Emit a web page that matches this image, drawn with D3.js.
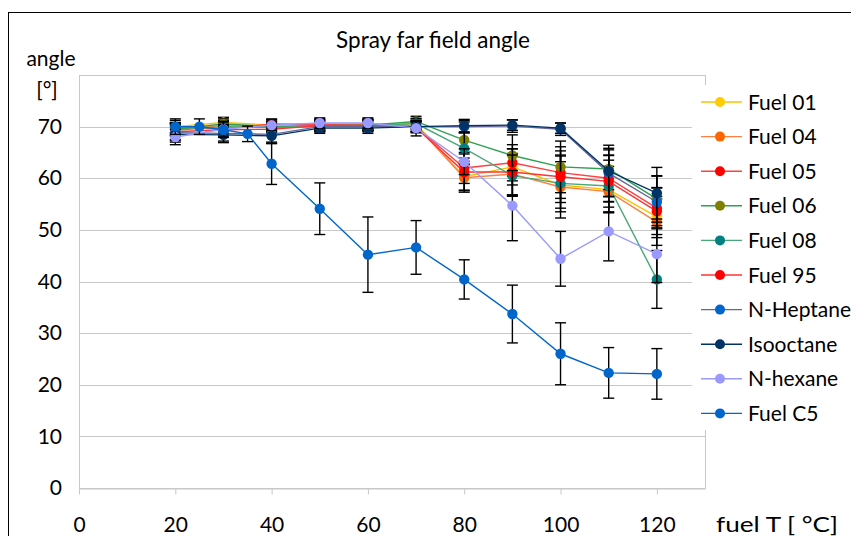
<!DOCTYPE html>
<html>
<head>
<meta charset="utf-8">
<script src="https://cdn.jsdelivr.net/npm/d3@7"></script>
<style>
  body { margin: 0; background: #fff; }
  text { font-family: Lato, "Open Sans", sans-serif; fill: #000; }
</style>
</head>
<body>
<div id="chart"></div>
<script>
// temperatures (°C)
const temps = [20, 30, 40, 50, 60, 70, 80, 90, 100, 110, 120];
const tempsC5 = [20, 25, 30, 35, 40, 50, 60, 70, 80, 90, 100, 110, 120];

const seriesNames = ["Fuel 01", "Fuel 04", "Fuel 05", "Fuel 06", "Fuel 08",
  "Fuel 95", "N-Heptane", "Isooctane", "N-hexane", "Fuel C5"];

const fuel01 = [70.0, 70.8, 70.3, 70.5, 70.5, 70.5, 60.3, 62.2, 58.7, 57.8, 52.5];
const fuel04 = [69.5, 70.2, 70.0, 70.3, 70.4, 70.2, 60.1, 60.8, 58.3, 57.4, 51.5];
const fuel05 = [69.8, 69.6, 70.5, 70.4, 70.3, 70.0, 62.0, 63.0, 61.1, 60.0, 54.2];
const fuel06 = [69.5, 70.5, 70.0, 70.2, 70.3, 71.0, 67.4, 64.4, 62.2, 61.8, 56.0];
const fuel08 = [69.3, 70.0, 69.8, 70.0, 70.2, 70.6, 65.8, 60.5, 59.0, 58.5, 40.4];
const fuel95 = [69.0, 69.4, 69.5, 70.2, 70.2, 69.8, 61.2, 61.2, 60.3, 59.4, 53.6];
const heptane = [68.8, 68.7, 68.5, 70.0, 70.0, 70.0, 70.0, 70.1, 69.5, 61.0, 55.4];
const isooctane = [68.5, 68.4, 68.2, 69.7, 69.7, 70.0, 70.2, 70.3, 69.7, 61.4, 57.1];
const hexane = [68.0, 69.5, 70.3, 70.7, 70.7, 69.7, 63.2, 54.7, 44.4, 49.7, 45.3];
const fuelC5 = [70.0, 70.0, 69.4, 68.6, 62.8, 54.1, 45.2, 46.6, 40.4, 33.7, 26.0, 22.3, 22.1];

// error bar half widths
const err01 = [1.2, 1.0, 1.0, 1.0, 1.0, 1.0, 3.0, 3.5, 4.5, 4.5, 4.0];
const err04 = [1.2, 1.0, 1.0, 1.0, 1.0, 1.0, 2.5, 4.0, 6.0, 4.0, 4.5];
const err05 = [1.0, 1.0, 1.0, 1.0, 1.0, 1.0, 3.0, 3.5, 5.0, 4.5, 4.0];
const err06 = [1.2, 1.0, 1.0, 1.0, 1.0, 1.0, 3.5, 4.0, 5.0, 4.0, 4.5];
const err08 = [1.2, 1.0, 1.0, 1.0, 1.0, 1.0, 3.0, 4.0, 5.5, 5.0, 5.6];
const err95 = [1.5, 1.0, 1.0, 1.0, 1.0, 1.0, 3.5, 4.5, 5.0, 5.0, 4.5];
const errHep = [1.5, 1.5, 1.5, 1.0, 1.0, 1.0, 1.2, 1.2, 1.2, 4.5, 5.0];
const errIso = [1.5, 1.5, 1.5, 1.0, 1.0, 1.0, 1.2, 1.0, 1.0, 5.0, 5.0];
const errHex = [1.5, 1.5, 1.0, 1.0, 1.0, 1.5, 2.5, 6.8, 5.3, 5.7, 5.5];
const errC5 = [1.5, 1.5, 1.5, 1.5, 4.0, 5.0, 7.3, 5.2, 3.8, 5.6, 6.0, 4.9, 4.9];

const xTicks = [0, 20, 40, 60, 80, 100, 120];
const yTicks = [0, 10, 20, 30, 40, 50, 60, 70];

const series = [
  { name: seriesNames[0], x: temps, y: fuel01, e: err01, line: "#ffc000", dot: "#ffcc00" },
  { name: seriesNames[1], x: temps, y: fuel04, e: err04, line: "#ff7f3f", dot: "#ff6600" },
  { name: seriesNames[2], x: temps, y: fuel05, e: err05, line: "#ff4040", dot: "#ff0000" },
  { name: seriesNames[3], x: temps, y: fuel06, e: err06, line: "#2ea052", dot: "#808000" },
  { name: seriesNames[4], x: temps, y: fuel08, e: err08, line: "#4aa878", dot: "#008080" },
  { name: seriesNames[5], x: temps, y: fuel95, e: err95, line: "#ff3333", dot: "#ff0000" },
  { name: seriesNames[6], x: temps, y: heptane, e: errHep, line: "#666699", dot: "#0066cc" },
  { name: seriesNames[7], x: temps, y: isooctane, e: errIso, line: "#003366", dot: "#003366" },
  { name: seriesNames[8], x: temps, y: hexane, e: errHex, line: "#9999ff", dot: "#9999ff" },
  { name: seriesNames[9], x: tempsC5, y: fuelC5, e: errC5, line: "#0066cc", dot: "#0066cc" }
];

const W = 851, H = 536;
const svg = d3.select("#chart").append("svg").attr("width", W).attr("height", H);

// outer chart border
svg.append("rect").attr("x", 8.5).attr("y", 12.5).attr("width", 900).attr("height", 600)
  .attr("fill", "#fff").attr("stroke", "#000").attr("stroke-width", 1);

const x = d3.scaleLinear().domain([0, 130]).range([79, 705]);
const y = d3.scaleLinear().domain([0, 80]).range([488, 75]);

// plot area border
svg.append("rect").attr("x", 79.5).attr("y", 75.5)
  .attr("width", x(130) - x(0)).attr("height", y(0) - y(80))
  .attr("fill", "none").attr("stroke", "#c8c8c8");

// gridlines
svg.append("g").selectAll("line").data(yTicks.filter(d => d > 0)).join("line")
  .attr("x1", x(0)).attr("x2", x(130))
  .attr("y1", d => Math.round(y(d)) + 0.5).attr("y2", d => Math.round(y(d)) + 0.5)
  .attr("stroke", "#c8c8c8");

// x axis
const xAxis = svg.append("g").attr("transform", `translate(0,${Math.round(y(0)) + 0.5})`)
  .call(d3.axisBottom(x).tickValues(xTicks).tickSize(6).tickPadding(26).tickSizeOuter(0));
xAxis.select(".domain").attr("stroke", "#c8c8c8");
xAxis.selectAll(".tick line").attr("stroke", "#c8c8c8");
xAxis.selectAll(".tick text").attr("font-size", 21).attr("font-family", "Lato, sans-serif")
  .attr("fill", "#000").attr("dy", "0.55em");

// y axis labels
const yAxis = svg.append("g").attr("transform", `translate(${x(0)},0)`)
  .call(d3.axisLeft(y).tickValues(yTicks).tickSize(0).tickPadding(17));
yAxis.select(".domain").remove();
yAxis.selectAll(".tick text").attr("font-size", 21).attr("font-family", "Lato, sans-serif")
  .attr("fill", "#000");

// titles
svg.append("text").attr("x", 433).attr("y", 48).attr("text-anchor", "middle")
  .attr("font-size", 22.5).text("Spray far field angle");
svg.append("text").attr("x", 51).attr("y", 66).attr("text-anchor", "middle")
  .attr("font-size", 21).text("angle");
svg.append("text").attr("x", 47).attr("y", 97).attr("text-anchor", "middle")
  .attr("font-size", 21).text("[°]");
svg.append("text").attr("x", 716).attr("y", 532)
  .attr("font-size", 21).attr("textLength", 122).attr("lengthAdjust", "spacingAndGlyphs")
  .text("fuel T [ °C]");

// series
const lineGen = d3.line().x(d => x(d[0])).y(d => y(d[1]));
series.forEach(s => {
  const pts = s.x.map((t, i) => [t, s.y[i], s.e[i]]);
  const g = svg.append("g");
  g.append("path").datum(pts).attr("d", lineGen)
    .attr("fill", "none").attr("stroke", s.line).attr("stroke-width", 1.4);
  const eb = g.append("g").selectAll("g").data(pts).join("g").attr("stroke", "#000").attr("stroke-width", 1.4);
  eb.append("line").attr("x1", d => x(d[0])).attr("x2", d => x(d[0]))
    .attr("y1", d => y(d[1] - d[2])).attr("y2", d => y(d[1] + d[2]));
  eb.append("line").attr("x1", d => x(d[0]) - 5.5).attr("x2", d => x(d[0]) + 5.5)
    .attr("y1", d => y(d[1] + d[2])).attr("y2", d => y(d[1] + d[2]));
  eb.append("line").attr("x1", d => x(d[0]) - 5.5).attr("x2", d => x(d[0]) + 5.5)
    .attr("y1", d => y(d[1] - d[2])).attr("y2", d => y(d[1] - d[2]));
  g.append("g").selectAll("circle").data(pts).join("circle")
    .attr("cx", d => x(d[0])).attr("cy", d => y(d[1])).attr("r", 5.2)
    .attr("fill", s.dot);
});

// legend
const legend = svg.append("g");
legend.append("rect").attr("x", 692).attr("y", 85).attr("width", 170).attr("height", 345).attr("fill", "#fff");
const item = legend.selectAll("g.item").data(series).join("g").attr("class", "item")
  .attr("transform", (d, i) => `translate(0,${102 + i * 34.6})`);
item.append("line").attr("x1", 701).attr("x2", 742).attr("stroke", d => d.line).attr("stroke-width", 1.4);
item.append("circle").attr("cx", 720).attr("r", 5).attr("fill", d => d.dot);
item.append("text").attr("x", 748).attr("dy", "0.36em").attr("font-size", 21).text(d => d.name);
</script>
</body>
</html>
